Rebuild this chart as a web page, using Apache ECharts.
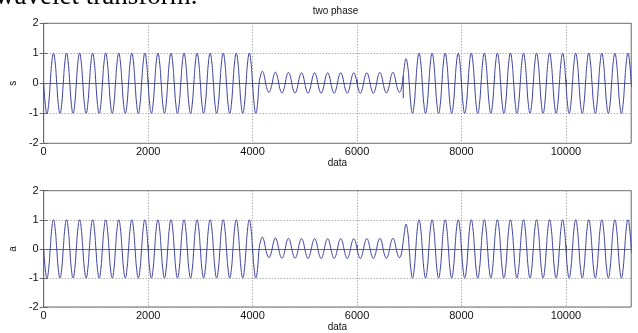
<!DOCTYPE html>
<html><head><meta charset="utf-8">
<script src="https://cdn.jsdelivr.net/npm/echarts@6/dist/echarts.min.js"></script>
<style>html,body{margin:0;padding:0;background:#fff}#c{width:638px;height:333px}</style>
</head><body><div id="c"></div>
<script>
// ---- data ----
const xTicks = [0, 2000, 4000, 6000, 8000, 10000];
const xMax = 11250;
const yTicks = [-2, -1, 0, 1, 2];
const sampleStep = 31.25; // spacing (data units) between listed samples (8 per wave period of 250)
const titleText = 'two phase';
const xName = 'data';
const yNames = ['s', 'a'];

// top subplot "s"
const sValues = [
  0,-0.71,-1,-0.71,0,0.71,1,0.71, 0,-0.71,-1,-0.71,0,0.71,1,0.71, 0,-0.71,-1,-0.71,0,0.71,1,0.71, 0,-0.71,-1,-0.71,0,0.71,1,0.71,
  0,-0.71,-1,-0.71,0,0.71,1,0.71, 0,-0.71,-1,-0.71,0,0.71,1,0.71, 0,-0.71,-1,-0.71,0,0.71,1,0.71, 0,-0.71,-1,-0.71,0,0.71,1,0.71,
  0,-0.71,-1,-0.71,0,0.71,1,0.71, 0,-0.71,-1,-0.71,0,0.71,1,0.71, 0,-0.71,-1,-0.71,0,0.71,1,0.71, 0,-0.71,-1,-0.71,0,0.71,1,0.71,
  0,-0.71,-1,-0.71,0,0.71,1,0.71, 0,-0.71,-1,-0.71,0,0.71,1,0.71, 0,-0.71,-1,-0.71,0,0.71,1,0.71, 0,-0.71,-1,-0.71,0,0.71,1,0.71,
  0,-0.71,-1,-0.71,0,
  0.28,0.40,0.28,0,-0.21,-0.30,-0.21,0,
  0.26,0.37,0.26,0,-0.23,-0.32,-0.23,0,
  0.26,0.36,0.26,0,-0.23,-0.32,-0.23,0,
  0.25,0.35,0.25,0,-0.23,-0.33,-0.23,0,
  0.25,0.35,0.25,0,-0.23,-0.33,-0.23,0,
  0.25,0.35,0.25,0,-0.23,-0.33,-0.23,0,
  0.25,0.35,0.25,0,-0.23,-0.33,-0.23,0,
  0.25,0.35,0.25,0,-0.23,-0.33,-0.23,0,
  0.25,0.35,0.25,0,-0.23,-0.33,-0.23,0,
  0.26,0.36,0.26,0,-0.23,-0.32,-0.23,0,
  0.26,0.36,0.26,0,-0.21,-0.30,-0.21,0.10,
  0.55,0.82,0.60,
  0,-0.71,-1,-0.71,0,0.71,1,0.71, 0,-0.71,-1,-0.71,0,0.71,1,0.71, 0,-0.71,-1,-0.71,0,0.71,1,0.71, 0,-0.71,-1,-0.71,0,0.71,1,0.71,
  0,-0.71,-1,-0.71,0,0.71,1,0.71, 0,-0.71,-1,-0.71,0,0.71,1,0.71, 0,-0.71,-1,-0.71,0,0.71,1,0.71, 0,-0.71,-1,-0.71,0,0.71,1,0.71,
  0,-0.71,-1,-0.71,0,0.71,1,0.71, 0,-0.71,-1,-0.71,0,0.71,1,0.71, 0,-0.71,-1,-0.71,0,0.71,1,0.71, 0,-0.71,-1,-0.71,0,0.71,1,0.71,
  0,-0.71,-1,-0.71,0,0.71,1,0.71, 0,-0.71,-1,-0.71,0,0.71,1,0.71, 0,-0.71,-1,-0.71,0,0.71,1,0.71, 0,-0.71,-1,-0.71,0,0.71,1,0.71,
  0,-0.71,-1,-0.71,0,0.71,1,0.71,
  0
];
const sSpike = [[6885, 0.25], [6885, -0.5]];

// bottom subplot "a"
const aValues = [
  0,-0.71,-1,-0.71,0,0.71,1,0.71, 0,-0.71,-1,-0.71,0,0.71,1,0.71, 0,-0.71,-1,-0.71,0,0.71,1,0.71, 0,-0.71,-1,-0.71,0,0.71,1,0.71,
  0,-0.71,-1,-0.71,0,0.71,1,0.71, 0,-0.71,-1,-0.71,0,0.71,1,0.71, 0,-0.71,-1,-0.71,0,0.71,1,0.71, 0,-0.71,-1,-0.71,0,0.71,1,0.71,
  0,-0.71,-1,-0.71,0,0.71,1,0.71, 0,-0.71,-1,-0.71,0,0.71,1,0.71, 0,-0.71,-1,-0.71,0,0.71,1,0.71, 0,-0.71,-1,-0.71,0,0.71,1,0.71,
  0,-0.71,-1,-0.71,0,0.71,1,0.71, 0,-0.71,-1,-0.71,0,0.71,1,0.71, 0,-0.71,-1,-0.71,0,0.71,1,0.71, 0,-0.71,-1,-0.71,0,0.71,1,0.71,
  0,-0.71,-1,-0.71,0,
  0.28,0.40,0.28,0,-0.21,-0.30,-0.21,0,
  0.26,0.37,0.26,0,-0.23,-0.32,-0.23,0,
  0.26,0.36,0.26,0,-0.23,-0.32,-0.23,0,
  0.25,0.35,0.25,0,-0.23,-0.33,-0.23,0,
  0.25,0.35,0.25,0,-0.23,-0.33,-0.23,0,
  0.25,0.35,0.25,0,-0.23,-0.33,-0.23,0,
  0.25,0.35,0.25,0,-0.23,-0.33,-0.23,0,
  0.25,0.35,0.25,0,-0.23,-0.33,-0.23,0,
  0.25,0.35,0.25,0,-0.23,-0.33,-0.23,0,
  0.26,0.36,0.26,0,-0.23,-0.32,-0.23,0,
  0.26,0.36,0.26,0,-0.21,-0.30,-0.21,0.13,
  0.55,0.85,0.62,
  0,-0.71,-1,-0.71,0,0.71,1,0.71, 0,-0.71,-1,-0.71,0,0.71,1,0.71, 0,-0.71,-1,-0.71,0,0.71,1,0.71, 0,-0.71,-1,-0.71,0,0.71,1,0.71,
  0,-0.71,-1,-0.71,0,0.71,1,0.71, 0,-0.71,-1,-0.71,0,0.71,1,0.71, 0,-0.71,-1,-0.71,0,0.71,1,0.71, 0,-0.71,-1,-0.71,0,0.71,1,0.71,
  0,-0.71,-1,-0.71,0,0.71,1,0.71, 0,-0.71,-1,-0.71,0,0.71,1,0.71, 0,-0.71,-1,-0.71,0,0.71,1,0.71, 0,-0.71,-1,-0.71,0,0.71,1,0.71,
  0,-0.71,-1,-0.71,0,0.71,1,0.71, 0,-0.71,-1,-0.71,0,0.71,1,0.71, 0,-0.71,-1,-0.71,0,0.71,1,0.71, 0,-0.71,-1,-0.71,0,0.71,1,0.71,
  0,-0.71,-1,-0.71,0,0.71,1,0.71,
  0
];

// ---- chart ----
const toPairs = vals => vals.map((v, i) => [i * sampleStep, v]);
const lineColor = '#3d41a0';
const frameColor = '#6a6a6a';
const font = 'Liberation Sans';
const grids = [
  {left: 40, top: 23.3, width: 591.2, height: 120},
  {left: 40, top: 190.7, width: 591.2, height: 120}
];
const gridOpt = grids.map(g => Object.assign({show: true, borderColor: frameColor, borderWidth: 1, backgroundColor: '#fff'}, g));
const plain = v => String(v);

const xAxes = [], yAxes = [];
grids.forEach((g, gi) => {
  xAxes.push({
    type: 'value', gridIndex: gi, min: xTicks[0], max: xMax, interval: xTicks[1] - xTicks[0],
    axisLine: {show: true, lineStyle: {color: frameColor}},
    axisTick: {show: true, inside: true, length: 4, lineStyle: {color: frameColor}},
    axisLabel: {color: '#111', fontSize: 11, fontFamily: font, margin: 3, showMaxLabel: false, formatter: plain},
    splitLine: {show: true, lineStyle: {type: [1, 2], color: '#8c8c8c'}},
    name: xName, nameLocation: 'middle', nameGap: 15,
    nameTextStyle: {color: '#111', fontSize: 10, fontFamily: font}
  });
  xAxes.push({
    type: 'value', gridIndex: gi, position: 'top', min: xTicks[0], max: xMax, interval: xTicks[1] - xTicks[0],
    axisLine: {show: false}, axisLabel: {show: false}, splitLine: {show: false},
    axisTick: {show: true, inside: true, length: 4, lineStyle: {color: frameColor}}
  });
  yAxes.push({
    type: 'value', gridIndex: gi, min: yTicks[0], max: yTicks[yTicks.length - 1], interval: yTicks[1] - yTicks[0],
    axisLine: {show: true, lineStyle: {color: frameColor}},
    axisTick: {show: true, inside: true, length: 4, lineStyle: {color: frameColor}},
    axisLabel: {color: '#111', fontSize: 11, fontFamily: font, margin: 5, formatter: plain},
    splitLine: {show: true, lineStyle: {type: [1, 2], color: '#8c8c8c'}},
    name: yNames[gi], nameLocation: 'middle', nameGap: 17,
    nameTextStyle: {color: '#111', fontSize: 10, fontFamily: font}
  });
  yAxes.push({
    type: 'value', gridIndex: gi, position: 'right', min: yTicks[0], max: yTicks[yTicks.length - 1], interval: yTicks[1] - yTicks[0],
    axisLine: {show: false}, axisLabel: {show: false}, splitLine: {show: false},
    axisTick: {show: true, inside: true, length: 4, lineStyle: {color: frameColor}}
  });
});

const lineSeries = (data, gi, smooth) => ({
  type: 'line', xAxisIndex: gi * 2, yAxisIndex: gi * 2, data, smooth,
  showSymbol: false, symbol: 'none', lineStyle: {color: lineColor, width: 1}, silent: true
});

const chart = echarts.init(document.getElementById('c'), null, {renderer: 'canvas'});
chart.setOption({
  animation: false,
  backgroundColor: '#fff',
  grid: gridOpt,
  xAxis: xAxes,
  yAxis: yAxes,
  graphic: [
    {type: 'text', x: -5, y: -3, style: {text: 'wavelet transform.', font: '27px "Liberation Serif"', fill: '#000', align: 'left', verticalAlign: 'middle'}},
    {type: 'text', x: 335.5, y: 11, style: {text: titleText, font: '10px "Liberation Sans"', fill: '#111', align: 'center', verticalAlign: 'middle'}}
  ],
  series: [
    lineSeries(toPairs(sValues), 0, true),
    lineSeries(sSpike, 0, false),
    lineSeries(toPairs(aValues), 1, true)
  ]
});
</script>
</body></html>
